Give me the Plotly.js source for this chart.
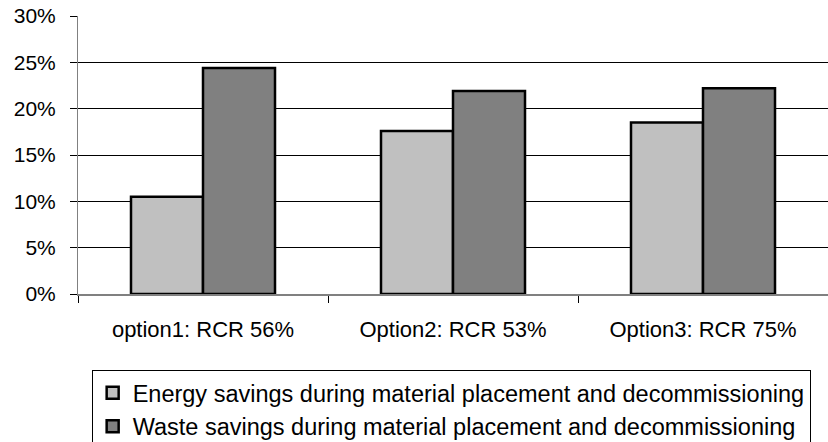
<!DOCTYPE html>
<html>
<head>
<meta charset="utf-8">
<script src="https://cdn.plot.ly/plotly-3.0.1.min.js"></script>
<style>html,body{margin:0;padding:0;background:#fff;}#chart{width:828px;height:442px;}</style>
</head>
<body>
<div id="chart"></div>
<script>
const categories = ["option1: RCR 56%", "Option2: RCR 53%", "Option3: RCR 75%"];
const energySavings = [10.5, 17.6, 18.5];
const wasteSavings = [24.4, 21.9, 22.2];
const seriesNames = [
  "Energy savings during material placement and decommissioning",
  "Waste savings during material placement and decommissioning"
];
const yTickVals = [0, 5, 10, 15, 20, 25, 30];
const yTickText = yTickVals.map(v => v + "%");

const font = "Arial, 'Liberation Sans', sans-serif";

const traces = [
  {type: "bar", name: seriesNames[0], x: categories, y: energySavings,
   marker: {color: "#c0c0c0", line: {color: "#000", width: 2.5}}, hoverinfo: "y"},
  {type: "bar", name: seriesNames[1], x: categories, y: wasteSavings,
   marker: {color: "#808080", line: {color: "#000", width: 2.5}}, hoverinfo: "y"}
];

const layout = {
  width: 828, height: 442,
  margin: {l: 78, r: 0, t: 16, b: 148, autoexpand: false},
  paper_bgcolor: "#fff", plot_bgcolor: "#fff",
  font: {family: font, size: 18, color: "#000"},
  barmode: "group", bargap: 0.424, bargroupgap: 0,
  showlegend: true,
  legend: {
    xref: "container", yref: "container",
    x: 0.1107, y: 0.163, xanchor: "left", yanchor: "top",
    font: {family: font, size: 23.5, color: "#000"},
    bordercolor: "#000", borderwidth: 1, bgcolor: "#fff",
    orientation: "v", itemwidth: 30, tracegroupgap: 0
  },
  xaxis: {
    type: "category", showgrid: false, zeroline: false,
    showline: true, linecolor: "#808080", linewidth: 2,
    ticks: "outside", tickson: "boundaries", ticklen: 7, tickcolor: "#000", tickwidth: 1,
    tickangle: 0, ticklabelstandoff: 15,
    tickfont: {family: font, size: 22, color: "#000"}
  },
  yaxis: {
    range: [0, 30], tickmode: "array", tickvals: yTickVals, ticktext: yTickText,
    showgrid: true, gridcolor: "#000", gridwidth: 1,
    zeroline: false, showline: true, linecolor: "#808080", linewidth: 1,
    ticks: "outside", ticklen: 7, tickcolor: "#000", ticklabelstandoff: 10,
    tickfont: {family: font, size: 21, color: "#000"}
  }
};

Plotly.newPlot("chart", traces, layout, {staticPlot: true});
</script>
</body>
</html>
